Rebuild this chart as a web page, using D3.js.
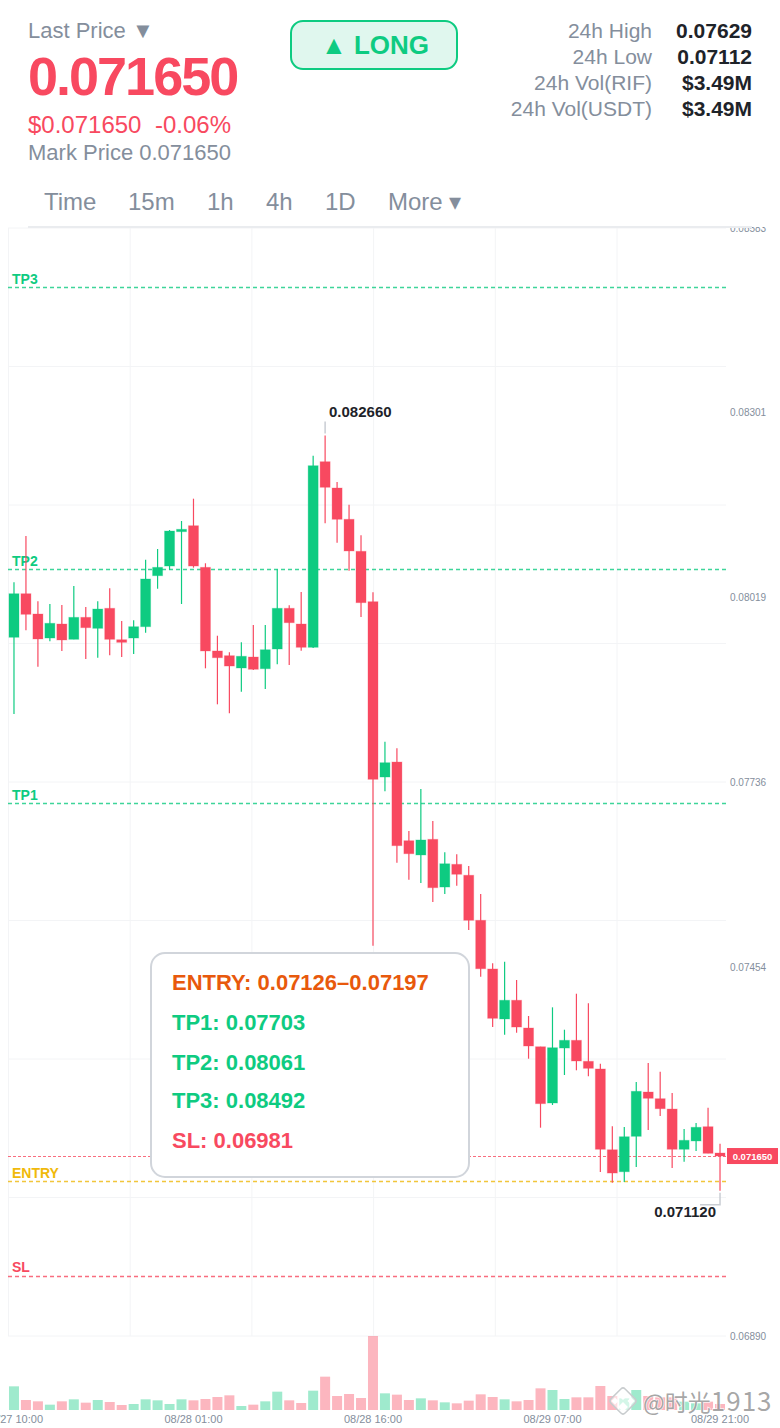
<!DOCTYPE html>
<html>

<head>
    <meta charset="utf-8">
    <style>
        html, body { margin: 0; padding: 0; background: #fff; }
        svg { display: block; }
        text { font-family: "Liberation Sans", Arial, sans-serif; }
    </style>
</head>

<body>
    <script src="https://d3js.org/d3.v7.min.js"></script>
    <script>
        // hourly candles
        var opens = [0.079576, 0.080242, 0.079932, 0.079565, 0.079779, 0.079545, 0.079881, 0.079713, 0.080019, 0.079539,
            0.079565, 0.079738, 0.080517, 0.080665, 0.081190, 0.081281, 0.080645, 0.079367, 0.079295, 0.079107,
            0.079275, 0.079096, 0.079397, 0.080019, 0.079779, 0.079423, 0.082259, 0.081857, 0.081379, 0.080890,
            0.080120, 0.077441, 0.077670, 0.076468, 0.076250, 0.076489, 0.075760, 0.076107, 0.075940, 0.075252,
            0.074508, 0.073744, 0.074030, 0.073606, 0.073320, 0.072460, 0.073300, 0.073418, 0.073097, 0.072980,
            0.071746, 0.071410, 0.071951, 0.072628, 0.072526, 0.072368, 0.071753, 0.071880, 0.072098, 0.071696];
        var highs = [0.080416, 0.081124, 0.080126, 0.080085, 0.080070, 0.080360, 0.080039, 0.080126, 0.080325, 0.079825,
            0.079836, 0.080762, 0.080925, 0.081215, 0.081353, 0.081694, 0.080707, 0.079600, 0.079347, 0.079499,
            0.079764, 0.079764, 0.080615, 0.080065, 0.080268, 0.082351, 0.082660, 0.081949, 0.081602, 0.081134,
            0.080263, 0.077981, 0.077880, 0.076616, 0.077258, 0.076769, 0.076291, 0.076260, 0.076081, 0.075654,
            0.074595, 0.074620, 0.074340, 0.073790, 0.073320, 0.073922, 0.073580, 0.074130, 0.073983, 0.073060,
            0.072104, 0.072093, 0.072781, 0.073071, 0.072938, 0.072613, 0.072063, 0.072154, 0.072388, 0.071838];
        var lows = [0.078404, 0.079683, 0.079127, 0.079515, 0.079367, 0.079545, 0.079244, 0.079264, 0.079301, 0.079275,
            0.079321, 0.079646, 0.080318, 0.080604, 0.080085, 0.080640, 0.079102, 0.078552, 0.078415, 0.078745,
            0.079076, 0.078786, 0.079163, 0.079153, 0.079371, 0.079412, 0.081318, 0.081021, 0.080594, 0.079886,
            0.074864, 0.077223, 0.076132, 0.075872, 0.075822, 0.075531, 0.075654, 0.075780, 0.075103, 0.074390,
            0.073621, 0.073504, 0.073534, 0.073137, 0.072083, 0.072430, 0.072888, 0.072960, 0.072868, 0.071406,
            0.071242, 0.071253, 0.071482, 0.072047, 0.072261, 0.071467, 0.071563, 0.071727, 0.071691, 0.071120];
        var closes = [0.080242, 0.079927, 0.079550, 0.079790, 0.079535, 0.079881, 0.079723, 0.080008, 0.079545, 0.079499,
            0.079738, 0.080467, 0.080645, 0.081200, 0.081226, 0.080665, 0.079367, 0.079264, 0.079137, 0.079286,
            0.079087, 0.079386, 0.080019, 0.079799, 0.079423, 0.082198, 0.081868, 0.081379, 0.080895, 0.080105,
            0.077406, 0.077660, 0.076392, 0.076269, 0.076479, 0.075750, 0.076116, 0.075955, 0.075252, 0.074512,
            0.073754, 0.074030, 0.073621, 0.073331, 0.072450, 0.073305, 0.073418, 0.073102, 0.072990, 0.071753,
            0.071390, 0.071945, 0.072639, 0.072532, 0.072373, 0.071753, 0.071890, 0.072089, 0.071691, 0.071650];
        var volumes = [71, 30, 26, 16, 26, 32, 22, 30, 24, 15,
            18, 32, 29, 18, 32, 29, 33, 39, 44, 12,
            16, 26, 55, 29, 21, 58, 100, 42, 48, 36,
            222, 50, 46, 30, 35, 29, 23, 20, 28, 47,
            39, 32, 26, 30, 65, 60, 33, 38, 38, 72,
            42, 35, 60, 42, 38, 38, 25, 20, 25, 18];

        // axes
        var priceTicks = [0.08583, 0.08301, 0.08019, 0.07736, 0.07454, 0.0689];
        var timeTickIndex = [0, 15, 30, 45, 59];
        var timeTickLabels = ['08/27 10:00', '08/28 01:00', '08/28 16:00', '08/29 07:00', '08/29 21:00'];

        // signal levels
        var levelNames = ['TP3', 'TP2', 'TP1', 'ENTRY', 'SL'];
        var levelPrices = [0.08492, 0.08061, 0.07703, 0.07126, 0.06981];
        var lastPrice = 0.07165;
        var highPrice = 0.08266;
        var lowPrice = 0.07112;

        // header text
        var statNames = ['24h High', '24h Low', '24h Vol(RIF)', '24h Vol(USDT)'];
        var statValues = ['0.07629', '0.07112', '$3.49M', '$3.49M'];
        var tabNames = ['Time', '15m', '1h', '4h', '1D', 'More ▾'];
        var tabX = [44, 128, 207, 266, 325, 388];
        var calloutLines = ['ENTRY: 0.07126–0.07197', 'TP1: 0.07703', 'TP2: 0.08061', 'TP3: 0.08492', 'SL: 0.06981'];

        var width = 780,
            height = 1428,
            green = '#0ecb81',
            red = '#f84960',
            grey = '#848e9c',
            dark = '#1e2329',
            gold = '#f0b90b',
            gridColor = '#f3f4f6';

        var plotLeft = 8, plotRight = 726, plotTop = 228, plotBottom = 1336;

        var x = d3.scaleBand().domain(d3.range(opens.length)).range([plotLeft, plotRight]);
        var y = d3.scaleLinear().domain([0.08583, 0.0689]).range([plotTop, plotBottom]);
        var yVol = d3.scaleLinear().domain([0, d3.max(volumes)]).range([1410, 1336]);
        var cx = i => x(i) + x.bandwidth() / 2;
        var crisp = v => Math.floor(v) + 0.5; // keep the dashed lines on one pixel row
        var barW = 10;

        var svg = d3.select('body').append('svg')
            .attr('width', width)
            .attr('height', height);

        // grid
        var gridG = svg.append('g').attr('stroke', gridColor).attr('stroke-width', 1);
        gridG.selectAll('line.h')
            .data(d3.range(9))
            .enter().append('line')
            .attr('x1', plotLeft).attr('x2', plotRight)
            .attr('y1', d => plotTop + d * (plotBottom - plotTop) / 8)
            .attr('y2', d => plotTop + d * (plotBottom - plotTop) / 8);
        gridG.selectAll('line.v')
            .data(d3.range(6))
            .enter().append('line')
            .attr('y1', plotTop).attr('y2', plotBottom)
            .attr('x1', d => plotLeft + 0.5 + d * 121.7)
            .attr('x2', d => plotLeft + 0.5 + d * 121.7);

        // volume bars
        svg.append('g').selectAll('rect')
            .data(volumes)
            .enter().append('rect')
            .attr('x', (d, i) => cx(i) - barW / 2)
            .attr('y', d => yVol(d))
            .attr('width', barW)
            .attr('height', d => yVol(0) - yVol(d))
            .attr('fill', (d, i) => closes[i] >= opens[i] ? green : red)
            .attr('opacity', 0.4);

        // level lines
        var levelColor = { TP3: green, TP2: green, TP1: green, ENTRY: gold, SL: red };
        var levels = svg.append('g').selectAll('g')
            .data(levelNames)
            .enter().append('g');
        levels.append('line')
            .attr('x1', plotLeft).attr('x2', plotRight)
            .attr('y1', (d, i) => crisp(y(levelPrices[i])))
            .attr('y2', (d, i) => crisp(y(levelPrices[i])))
            .attr('stroke', d => levelColor[d])
            .attr('stroke-width', 1.4)
            .attr('stroke-dasharray', '4 3')
            .attr('opacity', 0.8);
        levels.append('text')
            .attr('x', 12)
            .attr('y', (d, i) => y(levelPrices[i]) - 4)
            .attr('font-size', 14)
            .attr('font-weight', 'bold')
            .attr('fill', d => levelColor[d])
            .text(d => d);

        // last price line
        svg.append('line')
            .attr('x1', plotLeft).attr('x2', plotRight)
            .attr('y1', crisp(y(lastPrice))).attr('y2', crisp(y(lastPrice)))
            .attr('stroke', red)
            .attr('stroke-width', 1.2)
            .attr('stroke-dasharray', '3 2')
            .attr('opacity', 0.8);

        // candles
        var candles = svg.append('g').selectAll('g')
            .data(opens)
            .enter().append('g')
            .attr('fill', (d, i) => closes[i] >= d ? green : red)
            .attr('stroke', (d, i) => closes[i] >= d ? green : red);
        candles.append('line')
            .attr('x1', (d, i) => cx(i)).attr('x2', (d, i) => cx(i))
            .attr('y1', (d, i) => y(highs[i]))
            .attr('y2', (d, i) => y(lows[i]))
            .attr('stroke-width', 1.2);
        candles.append('rect')
            .attr('x', (d, i) => cx(i) - barW / 2)
            .attr('y', (d, i) => y(Math.max(d, closes[i])))
            .attr('width', barW)
            .attr('height', (d, i) => Math.abs(y(d) - y(closes[i])))
            .attr('stroke-width', 1)
            .attr('stroke-opacity', 0.3);

        // price axis
        var yAxis = svg.append('g')
            .attr('transform', `translate(${plotRight},0)`)
            .call(d3.axisRight(y).tickValues(priceTicks).tickFormat(d3.format('.5f')).tickSize(0).tickPadding(4));
        yAxis.select('.domain').remove();
        yAxis.selectAll('text').attr('font-size', 10).attr('fill', grey).style('font-family', '"Liberation Sans", Arial, sans-serif');

        // time axis
        var xAxis = svg.append('g')
            .attr('transform', 'translate(0,1412)')
            .call(d3.axisBottom(x).tickValues(timeTickIndex).tickFormat((d, i) => timeTickLabels[i]).tickSize(0).tickPadding(3));
        xAxis.select('.domain').remove();
        xAxis.selectAll('text').attr('font-size', 11).attr('fill', grey).style('font-family', '"Liberation Sans", Arial, sans-serif');

        // last price tag
        svg.append('rect')
            .attr('x', 727).attr('y', y(lastPrice) - 8)
            .attr('width', 51).attr('height', 16)
            .attr('fill', red);
        svg.append('text')
            .attr('x', 752.5).attr('y', y(lastPrice) + 4)
            .attr('text-anchor', 'middle')
            .attr('font-size', 9.5).attr('font-weight', 'bold')
            .attr('fill', '#fff')
            .text(d3.format('.6f')(lastPrice));

        // high / low markers
        var markerColor = '#c9cdd3';
        svg.append('path')
            .attr('d', d3.line()([[cx(26), y(highPrice) - 2], [cx(26), y(highPrice) - 14]]))
            .attr('stroke', markerColor).attr('stroke-width', 1.5).attr('fill', 'none');
        svg.append('text')
            .attr('x', 329).attr('y', y(highPrice) - 18)
            .attr('font-size', 15).attr('font-weight', 'bold').attr('fill', dark)
            .text(d3.format('.6f')(highPrice));
        svg.append('path')
            .attr('d', d3.line()([[cx(59), y(lowPrice) + 2], [cx(59), y(lowPrice) + 14], [cx(59) - 20, y(lowPrice) + 14]]))
            .attr('stroke', markerColor).attr('stroke-width', 1.5).attr('fill', 'none');
        svg.append('text')
            .attr('x', 716).attr('y', y(lowPrice) + 26)
            .attr('text-anchor', 'end')
            .attr('font-size', 15).attr('font-weight', 'bold').attr('fill', dark)
            .text(d3.format('.6f')(lowPrice));

        // callout
        svg.append('rect')
            .attr('x', 151).attr('y', 953)
            .attr('width', 318).attr('height', 224)
            .attr('rx', 14)
            .attr('fill', '#fff')
            .attr('stroke', '#d1d5db').attr('stroke-width', 2);
        var calloutY = [990, 1030, 1070, 1108, 1148];
        var calloutColor = ['#e8590c', green, green, green, red];
        svg.append('g').selectAll('text')
            .data(calloutLines)
            .enter().append('text')
            .attr('x', 172)
            .attr('y', (d, i) => calloutY[i])
            .attr('font-size', 22).attr('font-weight', 'bold')
            .attr('fill', (d, i) => calloutColor[i])
            .text(d => d);

        // header sits over the chart, it cuts the top price label
        svg.append('rect').attr('width', width).attr('height', plotTop - 1).attr('fill', '#fff');
        svg.append('line')
            .attr('x1', 28).attr('x2', 752)
            .attr('y1', 227).attr('y2', 227)
            .attr('stroke', '#eaecef').attr('stroke-width', 2);

        function label(str, px, py, size, color, opts) {
            opts = opts || {};
            return svg.append('text')
                .attr('x', px).attr('y', py)
                .attr('font-size', size)
                .attr('fill', color)
                .attr('font-weight', opts.bold ? 'bold' : null)
                .attr('text-anchor', opts.anchor || null)
                .attr('letter-spacing', opts.spacing || null)
                .text(str);
        }

        label('Last Price ▼', 28, 38, 22, grey);
        label(d3.format('.6f')(lastPrice), 28, 95, 54, red, { bold: true, spacing: -2 });
        label('$0.071650', 28, 133, 24, red);
        label('-0.06%', 155, 133, 24, red);
        label('Mark Price 0.071650', 28, 160, 22, grey);

        svg.append('rect')
            .attr('x', 291).attr('y', 21)
            .attr('width', 166).attr('height', 48)
            .attr('rx', 12)
            .attr('fill', '#e0f7ee')
            .attr('stroke', green).attr('stroke-width', 2);
        label('▲ LONG', 375, 54, 26, green, { bold: true, anchor: 'middle' });

        statNames.forEach((d, i) => {
            label(d, 652, 38 + i * 26, 21, grey, { anchor: 'end' });
            label(statValues[i], 752, 38 + i * 26, 21, dark, { bold: true, anchor: 'end' });
        });

        tabNames.forEach((d, i) => label(d, tabX[i], 210, 24, grey));

        // watermark
        var mark = svg.append('g').attr('transform', 'translate(623,1401)');
        mark.append('rect')
            .attr('x', -10).attr('y', -10).attr('width', 20).attr('height', 20).attr('rx', 3)
            .attr('transform', 'rotate(45)')
            .attr('fill', '#fff').attr('fill-opacity', 0.55)
            .attr('stroke', '#c8ccce').attr('stroke-width', 1.5);
        mark.selectAll('rect.dot')
            .data([[0, -6], [-8, 0], [8, 0], [0, 6]])
            .enter().append('rect')
            .attr('class', 'dot')
            .attr('width', d => d[1] === 0 ? 5 : 7).attr('height', d => d[1] === 0 ? 5 : 7)
            .attr('transform', d => `translate(${d[0]},${d[1]}) rotate(45)`)
            .attr('x', d => d[1] === 0 ? -2.5 : -3.5).attr('y', d => d[1] === 0 ? -2.5 : -3.5)
            .attr('fill', '#fff');

        var markText = svg.append('text')
            .attr('x', 643).attr('y', 1411)
            .attr('font-size', 23)
            .attr('fill', '#8f8f8f')
            .attr('fill-opacity', 0.8)
            .attr('stroke', '#fff').attr('stroke-width', 1.5).attr('stroke-opacity', 0.8).attr('paint-order', 'stroke')
            .style('font-family', '"Noto Sans CJK SC", sans-serif');
        markText.append('tspan').text('@时光');
        markText.append('tspan').attr('font-size', 26).attr('letter-spacing', 1).text('1913');
    </script>
</body>

</html>
